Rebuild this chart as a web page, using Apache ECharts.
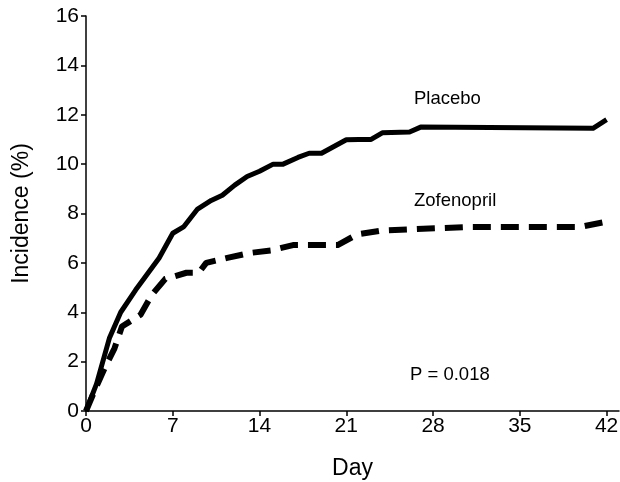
<!DOCTYPE html>
<html>
<head>
<meta charset="utf-8">
<script src="https://cdn.jsdelivr.net/npm/echarts@6/dist/echarts.min.js"></script>
<style>
  html, body { margin: 0; padding: 0; background: #fff; }
  #chart { width: 620px; height: 482px; }
</style>
</head>
<body>
<div id="chart"></div>
<script>
// 数据
const dayTicks = [0, 7, 14, 21, 28, 35, 42];

const placeboDays = [0, 0.85, 1.9, 2.8, 4.0, 5.9, 7.0, 7.9, 9.0, 10.1, 11.0, 12.0, 13.0, 14.0, 15.1, 15.9, 17.1, 18.0, 19.0, 21.0, 22.0, 23.0, 23.9, 26.1, 27.0, 40.9, 42.0];
const placeboVals = [0, 1.1, 2.97, 4.0, 4.9, 6.2, 7.2, 7.47, 8.18, 8.53, 8.74, 9.15, 9.5, 9.71, 10.0, 10.0, 10.27, 10.44, 10.44, 10.99, 11.0, 11.0, 11.27, 11.3, 11.5, 11.45, 11.8];

const zofenDays = [0, 0.85, 1.5, 2.3, 2.9, 4.4, 5.3, 6.4, 8.1, 9.1, 9.7, 11.4, 13.2, 14.9, 16.7, 20.3, 21.9, 23.7, 27.2, 30.7, 39.8, 42.0];
const zofenVals = [0, 1.0, 1.73, 2.54, 3.42, 3.9, 4.7, 5.35, 5.6, 5.6, 6.0, 6.2, 6.4, 6.5, 6.72, 6.72, 7.16, 7.3, 7.38, 7.45, 7.45, 7.67];

const toPairs = (xs, ys) => xs.map((x, i) => [x, ys[i]]);

const myChart = echarts.init(document.getElementById('chart'));

const font = 'Liberation Sans, Arial, sans-serif';

const option = {
    animation: false,
    grid: {
        left: 86,
        right: 1,
        top: 16,
        bottom: 71,
        outerBoundsMode: 'none'
    },
    xAxis: {
        type: 'value',
        min: 0,
        max: 43,
        name: 'Day',
        nameLocation: 'middle',
        nameGap: 46,
        nameTextStyle: { color: '#000', fontSize: 23, fontFamily: font },
        axisLine: { show: true, lineStyle: { color: '#000', width: 1.5 } },
        axisTick: { show: true, length: 5, customValues: dayTicks, lineStyle: { color: '#000', width: 1.5 } },
        axisLabel: { customValues: dayTicks, color: '#000', fontSize: 21, fontFamily: font, margin: 5 },
        splitLine: { show: false }
    },
    yAxis: {
        type: 'value',
        min: 0,
        max: 16,
        interval: 2,
        name: 'Incidence (%)',
        nameLocation: 'middle',
        nameGap: 53,
        nameTextStyle: { color: '#000', fontSize: 23, fontFamily: font },
        axisLine: { show: true, lineStyle: { color: '#000', width: 1.5 } },
        axisTick: { show: true, length: 5, lineStyle: { color: '#000', width: 1.5 } },
        axisLabel: { color: '#000', fontSize: 21, fontFamily: font, margin: 7 },
        splitLine: { show: false }
    },
    series: [
        {
            name: 'Placebo',
            type: 'line',
            data: toPairs(placeboDays, placeboVals),
            showSymbol: false,
            lineStyle: { color: '#000', width: 5, cap: 'butt', join: 'round' },
            z: 3
        },
        {
            name: 'Zofenopril',
            type: 'line',
            data: toPairs(zofenDays, zofenVals),
            showSymbol: false,
            lineStyle: { color: '#000', width: 6, type: [18, 10], cap: 'butt', join: 'round' },
            z: 2
        }
    ],
    graphic: [
        {
            type: 'text', left: 414, top: 89,
            style: { text: 'Placebo', fill: '#000', fontSize: 18.5, fontFamily: font }
        },
        {
            type: 'text', left: 414, top: 191,
            style: { text: 'Zofenopril', fill: '#000', fontSize: 18.5, fontFamily: font }
        },
        {
            type: 'text', left: 410, top: 365,
            style: { text: 'P = 0.018', fill: '#000', fontSize: 18.5, fontFamily: font }
        }
    ]
};

myChart.setOption(option);
</script>
</body>
</html>
